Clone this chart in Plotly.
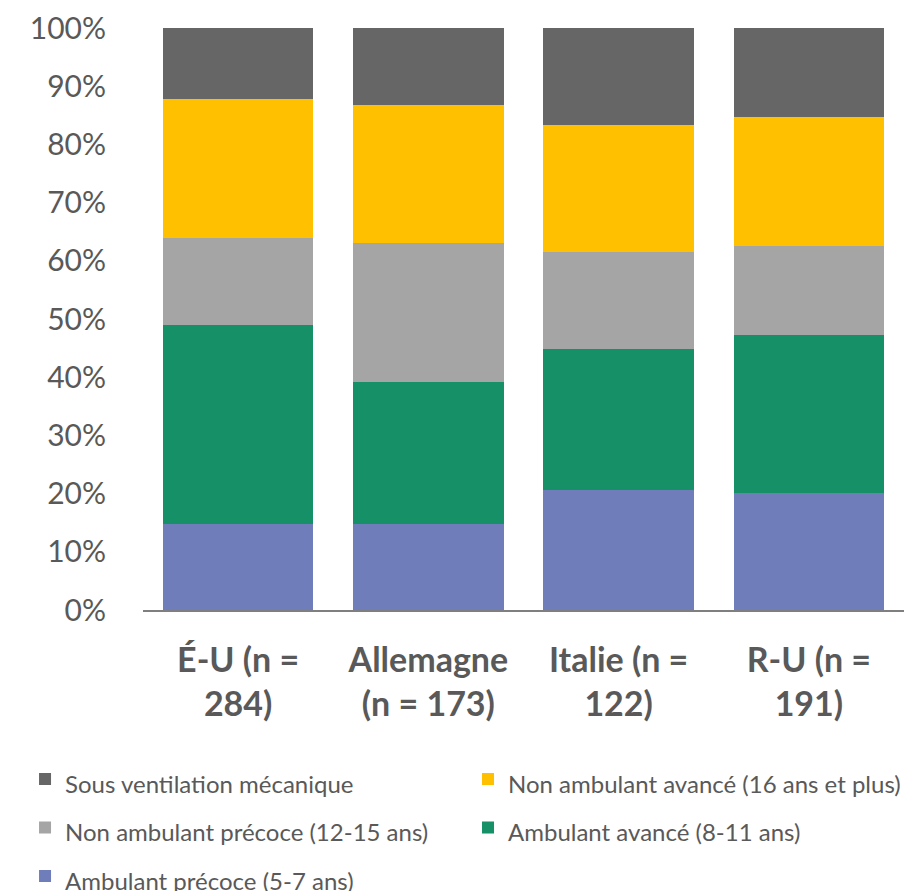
import plotly.graph_objects as go

categories = ["É-U (n =<br>284)", "Allemagne<br>(n = 173)", "Italie (n =<br>122)", "R-U (n =<br>191)"]
series_names = [
    "Ambulant précoce (5-7 ans)",
    "Ambulant avancé (8-11 ans)",
    "Non ambulant précoce (12-15 ans)",
    "Non ambulant avancé (16 ans et plus)",
    "Sous ventilation mécanique",
]
ambulant_precoce = [14.8, 14.8, 20.6, 20.1]
ambulant_avance = [34.2, 24.4, 24.2, 27.2]
non_amb_precoce = [14.9, 23.9, 16.7, 15.2]
non_amb_avance = [23.9, 23.7, 21.8, 22.2]
ventilation = [12.2, 13.2, 16.7, 15.3]
colors = ["#6F7EBA", "#159067", "#A5A5A5", "#FFC000", "#666666"]
legend_column = ["legend", "legend2", "legend", "legend2", "legend"]

values = [ambulant_precoce, ambulant_avance, non_amb_precoce, non_amb_avance, ventilation]

fig = go.Figure()
for name, vals, col, lg in zip(series_names, values, colors, legend_column):
    fig.add_trace(go.Bar(
        x=categories, y=vals,
        name='<span style="font-size:24px">' + name + '</span>',
        marker=dict(color=col, line=dict(width=0)),
        legend=lg,
    ))

legend_common = dict(
    orientation="v", traceorder="reversed",
    xref="container", yref="container",
    xanchor="left", yanchor="top",
    itemwidth=30,
    font=dict(size=35, color="#595959"),
    bgcolor="rgba(0,0,0,0)",
)

fig.update_layout(
    barmode="stack",
    bargap=0.21,
    width=907, height=891,
    margin=dict(l=143, r=3, t=28, b=281, autoexpand=False),
    plot_bgcolor="white", paper_bgcolor="white",
    font=dict(family="Lato", color="#595959"),
    showlegend=True,
    legend=dict(legend_common, x=0.0276, y=0.1585),
    legend2=dict(legend_common, x=0.516, y=0.1585),
    xaxis=dict(
        showline=True, linecolor="#7F7F7F", linewidth=2,
        tickfont=dict(size=34, color="#595959", family="Lato", weight="bold"),
        ticks="", showgrid=False, ticklabelstandoff=19, automargin=False,
    ),
    yaxis=dict(
        range=[0, 100], tickvals=[0, 10, 20, 30, 40, 50, 60, 70, 80, 90, 100],
        ticktext=["0%", "10%", "20%", "30%", "40%", "50%", "60%", "70%", "80%", "90%", "100%"],
        showgrid=False, zeroline=False, showline=False, ticks="",
        tickfont=dict(size=30, color="#595959"), ticklabelstandoff=36, automargin=False,
    ),
)
fig.write_html("out.html")
